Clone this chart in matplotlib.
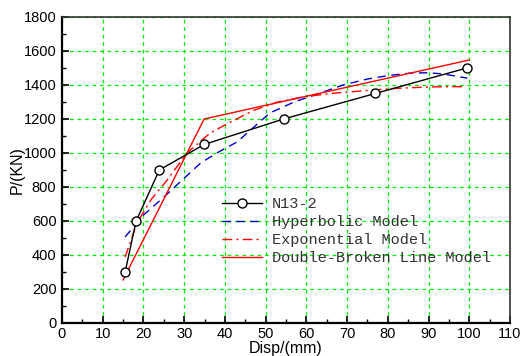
import matplotlib
matplotlib.use('Agg')
import matplotlib.pyplot as plt
from matplotlib.ticker import MultipleLocator

# test data N13-2
disp_test = [15.5, 18.2, 23.9, 34.9, 54.4, 76.9, 99.4]
load_test = [300, 600, 900, 1050, 1200, 1350, 1500]

# hyperbolic model
disp_hyp = [15.5, 20, 25, 29, 34, 38, 43, 51, 57, 63.4, 69, 75, 80, 85.5, 90, 93, 96, 99.5]
load_hyp = [506, 635, 740, 830, 940, 1000, 1065, 1235, 1300, 1353, 1400, 1435, 1455, 1470, 1472, 1466, 1455, 1440]

# exponential model
disp_exp = [15.5, 18.4, 22, 25.8, 30.7, 36.4, 42, 47, 53, 59.2, 66, 75, 82, 89.7, 95, 98.5]
load_exp = [388, 588, 730, 840, 1000, 1118, 1190, 1250, 1300, 1330, 1350, 1368, 1380, 1388, 1390, 1390]

# double-broken line model
disp_dbl = [15, 34.9, 100]
load_dbl = [253, 1200, 1547]

fig = plt.figure(figsize=(5.28, 3.56), dpi=100)
ax = fig.add_axes([0.1174, 0.0927, 0.8486, 0.8596])

ax.plot(disp_test, load_test, 'k-', lw=1.0, marker='o', ms=6.5,
        mfc='white', mec='black', mew=1.0, label='N13-2', zorder=5)
ax.plot(disp_hyp, load_hyp, color='#0000c8', lw=1.0, dashes=[6, 4],
        label='Hyperbolic Model', zorder=4)
ax.plot(disp_exp, load_exp, color='red', lw=1.0, dashes=[7, 3, 1.5, 3],
        label='Exponential Model', zorder=4)
ax.plot(disp_dbl, load_dbl, color='red', lw=1.0, label='Double-Broken Line Model', zorder=4)

ax.set_xlim(0, 110)
ax.set_ylim(0, 1800)
ax.xaxis.set_major_locator(MultipleLocator(10))
ax.xaxis.set_minor_locator(MultipleLocator(5))
ax.yaxis.set_major_locator(MultipleLocator(200))
ax.yaxis.set_minor_locator(MultipleLocator(100))

ax.grid(True, which='major', color='#00ee00', linestyle=(0, (3, 3)), lw=0.9)
ax.set_axisbelow(True)

ax.tick_params(which='both', direction='in', top=False, right=False,
               labelsize=10.5)
ax.tick_params(axis='x', pad=3)
ax.tick_params(axis='y', pad=4)
ax.tick_params(which='major', length=5, width=1.2)
ax.tick_params(which='minor', length=3, width=1.0)
for lab in ax.get_xticklabels() + ax.get_yticklabels():
    lab.set_fontfamily('Liberation Sans')

for side in ['left', 'bottom']:
    ax.spines[side].set_linewidth(1.6)
for side in ['top', 'right']:
    ax.spines[side].set_linewidth(1.2)
    ax.spines[side].set_color('#333333')

ax.set_xlabel('Disp/(mm)', fontsize=11.5, family='Liberation Sans', labelpad=0)
ax.set_ylabel('P/(KN)', fontsize=11.5, family='Liberation Sans', labelpad=-1)

leg = ax.legend(loc='upper left', bbox_to_anchor=(0.34, 0.437), frameon=False,
                prop={'family': 'Liberation Mono', 'size': 11},
                handlelength=2.6, handletextpad=0.65, labelspacing=0.27,
                borderpad=0.0)
for t in leg.get_texts():
    t.set_color('#333333')

fig.savefig('out.png', dpi=100)
